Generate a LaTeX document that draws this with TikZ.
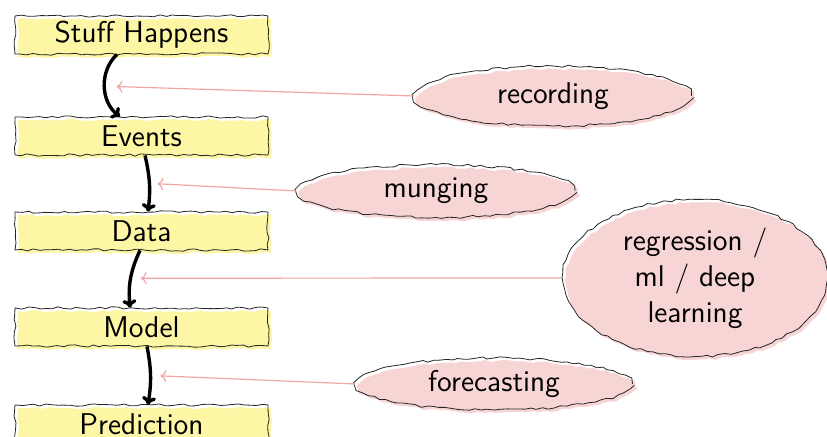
\documentclass[tikz,border=0pt]{standalone}
\usepackage{tikz}
\usetikzlibrary{arrows.meta,decorations.pathmorphing,shadows,shapes.geometric}
\definecolor{boxyellow}{RGB}{252,246,165}
\definecolor{blobpink}{RGB}{248,213,213}
\definecolor{linkpink}{RGB}{240,165,165}

\begin{document}
\begin{tikzpicture}[x=0.5pt, y=-0.5pt,
    font=\sffamily\fontsize{15}{18}\selectfont,
    wobbly/.style={draw=black!85, thin, decorate,
        decoration={random steps, segment length=3pt, amplitude=0.6pt}},
    stage/.style={wobbly, general shadow={fill=boxyellow, shadow xshift=1.5pt, shadow yshift=-1.5pt},
        minimum width=126.5pt, minimum height=19pt, inner sep=0pt},
    blob/.style={wobbly, ellipse, general shadow={fill=blobpink, shadow xshift=1.5pt, shadow yshift=-1.5pt},
        inner sep=0pt, align=center},
    flow/.style={-{To[length=4pt, width=7pt]}, line width=1.7pt},
    link/.style={->, linkpink, semithick}]
    \useasboundingbox (0,0) rectangle (827,437);

    % Stages
    \node[stage] (stuff) at (141.5,35) {Stuff Happens};
    \node[stage] (events) at (141.5,136) {Events};
    \node[stage] (data) at (141.5,231) {Data};
    \node[stage] (model) at (141.5,327) {Model};
    \node[stage] (pred) at (141.5,424) {Prediction};

    % Steps
    \node[blob, minimum width=138.5pt, minimum height=30pt] (rec) at (553,96) {recording};
    \node[blob, minimum width=139pt, minimum height=26.5pt] (mung) at (436,191) {munging};
    \node[blob, minimum width=132.5pt, minimum height=78.5pt] (regr) at (695,278) {regression /\\ ml / deep\\ learning};
    \node[blob, minimum width=138.5pt, minimum height=26pt] (fore) at (494,384) {forecasting};

    % Arrows
    \draw[flow] ([xshift=-12.25pt]stuff.south) to[bend right=50] node[coordinate, pos=0.5] (a1) {} ([xshift=-10.75pt]events.north);
    \draw[flow] ([xshift=1.75pt]events.south) to[bend left=10] node[coordinate, pos=0.5] (a2) {} ([xshift=3.25pt]data.north);
    \draw[flow] ([xshift=-0.75pt]data.south) to[bend right=15] node[coordinate, pos=0.5] (a3) {} ([xshift=-5.75pt]model.north);
    \draw[flow] ([xshift=2.75pt]model.south) to[bend left=10] node[coordinate, pos=0.5] (a4) {} ([xshift=3.25pt]pred.north);

    % Links
    \draw[link, shorten >=6pt] (rec.west) -- (a1);
    \draw[link, shorten >=4pt] (mung.west) -- (a2);
    \draw[link, shorten >=5pt] (regr.west) -- (a3);
    \draw[link, shorten >=5pt] (fore.west) -- (a4);
\end{tikzpicture}
\end{document}
